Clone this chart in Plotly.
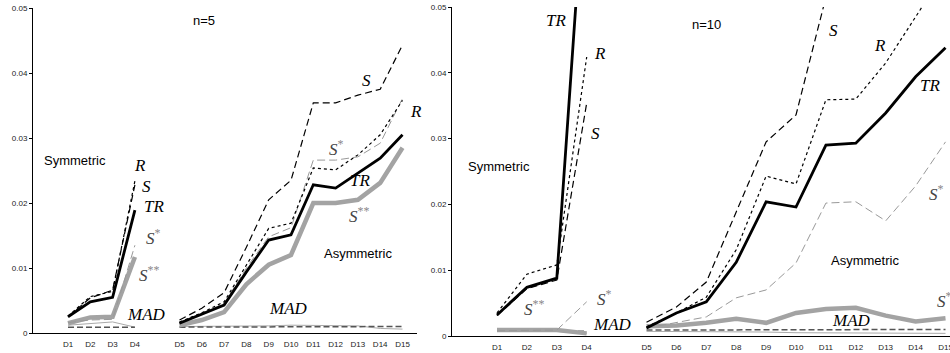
import plotly.graph_objects as go

# ---------------- data ----------------
categories = ["D1", "D2", "D3", "D4", "D5", "D6", "D7", "D8", "D9", "D10",
              "D11", "D12", "D13", "D14", "D15"]
n_sym = 4  # D1..D4 symmetric, D5..D15 asymmetric
y_ticks = [0, 0.01, 0.02, 0.03, 0.04, 0.05]
y_ticktext = ["0", "0.01", "0.02", "0.03", "0.04", "0.05"]

# n = 5
TR_5 = [0.0025, 0.0048, 0.0055, 0.0189, 0.0015, 0.0029, 0.0043, 0.0094, 0.0143, 0.0151,
        0.0228, 0.0223, 0.0246, 0.0269, 0.0305]
S_5 = [0.0025, 0.0054, 0.0066, 0.0228, 0.0020, 0.0038, 0.0062, 0.0132, 0.0205, 0.0235,
       0.0354, 0.0354, 0.0366, 0.0375, 0.0443]
R_5 = [0.0026, 0.0056, 0.0064, 0.0234, 0.0017, 0.0031, 0.0048, 0.0105, 0.0161, 0.0169,
       0.0254, 0.0251, 0.0274, 0.0305, 0.0358]
Sstar_5 = [0.0016, 0.0020, 0.0021, 0.0135, 0.0016, 0.0030, 0.0045, 0.0100, 0.0148, 0.0162,
           0.0266, 0.0266, 0.0271, 0.0292, 0.0361]
Sss_5 = [0.0015, 0.0024, 0.0025, 0.0117, 0.0012, 0.0020, 0.0032, 0.0075, 0.0105, 0.0120,
         0.0200, 0.0200, 0.0205, 0.0231, 0.0285]
MAD_5 = [0.0009, 0.0009, 0.0009, 0.0009, 0.0009, 0.0009, 0.0009, 0.0009, 0.0009, 0.0010,
         0.0010, 0.0010, 0.0010, 0.0010, 0.0010]
thin_5 = [0.0012, 0.0015, 0.0017, 0.0009, 0.0010, 0.0010, 0.0011, 0.0011, 0.0011, 0.0012,
          0.0012, 0.0012, 0.0011, 0.0007, 0.0006]

# n = 10
TR_10 = [0.0032, 0.0074, 0.0088, 0.0740, 0.0012, 0.0035, 0.0052, 0.0112, 0.0204, 0.0196,
         0.0290, 0.0293, 0.0339, 0.0394, 0.0438]
R_10 = [0.0035, 0.0094, 0.0108, 0.0424, 0.0014, 0.0035, 0.0059, 0.0131, 0.0243, 0.0231,
        0.0359, 0.0360, 0.0415, 0.0486, 0.0555]
S_10 = [0.0031, 0.0072, 0.0085, 0.0354, 0.0021, 0.0044, 0.0082, 0.0188, 0.0295, 0.0336,
        0.0515, 0.0550, 0.0580, 0.0620, 0.0660]
Sstar_10 = [0.0008, 0.0008, 0.0009, 0.0052, 0.0012, 0.0021, 0.0029, 0.0058, 0.0070, 0.0111,
            0.0202, 0.0204, 0.0175, 0.0228, 0.0295]
Sss_10 = [0.0009, 0.0009, 0.0009, 0.0004, 0.0015, 0.0016, 0.0020, 0.0026, 0.0020, 0.0035,
          0.0041, 0.0043, 0.0031, 0.0022, 0.0027]
MAD_10 = [0.0008, 0.0008, 0.0008, 0.0007, 0.0009, 0.0009, 0.0009, 0.0009, 0.0009, 0.0010,
          0.0010, 0.0010, 0.0010, 0.0010, 0.0010]
thin_10 = [0.0007, 0.0007, 0.0007, 0.0004, 0.0007, 0.0007, 0.0006, 0.0006, 0.0006, 0.0005,
           0.0005, 0.0005, 0.0005, 0.0004, 0.0004]

# ---------------- build ----------------
GAP = " "
x_cats = categories[:n_sym] + [GAP] + categories[n_sym:]


def with_gap(vals):
    return list(vals[:n_sym]) + [None] + list(vals[n_sym:])


styles = {
    "thin": dict(color="#aaaaaa", width=1, dash="solid"),
    "MAD": dict(color="#555555", width=1.5, dash="6px,3px"),
    "S**": dict(color="#a3a3a3", width=4.5, dash="solid"),
    "S*": dict(color="#999999", width=1, dash="8px,4px"),
    "R": dict(color="black", width=1.2, dash="3px,3px"),
    "S": dict(color="black", width=1.2, dash="7px,4px"),
    "TR": dict(color="black", width=2.8, dash="solid"),
}

panels = [
    ("x", "y", {"thin": thin_5, "MAD": MAD_5, "S**": Sss_5, "S*": Sstar_5,
                "R": R_5, "S": S_5, "TR": TR_5}),
    ("x2", "y2", {"thin": thin_10, "MAD": MAD_10, "S**": Sss_10, "S*": Sstar_10,
                  "R": R_10, "S": S_10, "TR": TR_10}),
]

fig = go.Figure()
for xa, ya, series in panels:
    for name, vals in series.items():
        fig.add_trace(go.Scatter(
            x=x_cats, y=with_gap(vals), xaxis=xa, yaxis=ya, mode="lines",
            line=dict(**styles[name]), connectgaps=False, showlegend=False,
            name=name, hoverinfo="skip"))

axis_font = dict(family="Liberation Sans, Arial", size=8, color="#222")
common_x = dict(type="category", categoryorder="array", categoryarray=x_cats,
                showline=True, linecolor="black", linewidth=1, showgrid=False,
                zeroline=False, ticks="", tickfont=axis_font, ticklabelstandoff=3,
                automargin=False)
common_y = dict(range=[0, 0.05], tickvals=y_ticks, ticktext=y_ticktext,
                showline=True, linecolor="black", linewidth=1, showgrid=False,
                zeroline=False, ticks="outside", ticklen=3, tickcolor="black",
                tickfont=axis_font, automargin=False)

W, H = 950, 353
fig.update_layout(
    width=W, height=H, margin=dict(l=0, r=0, t=0, b=0, autoexpand=False),
    paper_bgcolor="white", plot_bgcolor="white",
    xaxis=dict(common_x, domain=[33 / W, 417 / W], range=[-1.57, 15.65], anchor="y"),
    yaxis=dict(common_y, domain=[(H - 333) / H, (H - 8) / H], anchor="x"),
    xaxis2=dict(common_x, domain=[452 / W, 1.0], range=[-1.505, 15.15], anchor="y2"),
    yaxis2=dict(common_y, domain=[(H - 336) / H, (H - 7) / H], anchor="x2"),
)

serif = dict(family="Liberation Serif, Times New Roman", size=17, color="black")
grey_serif = dict(family="Liberation Serif, Times New Roman", size=17, color="#444444")
sans = dict(family="Liberation Sans, Arial", size=13, color="black")

one = "<i>S</i><sup><span style='color:#888'>*</span></sup>"
two = "<i>S</i><sup><span style='color:#888'>**</span></sup>"

labels = [
    # (axis suffix, x index, y value, text, font, xanchor)
    ("", 0.31, 0.0265, "Symmetric", sans, "center"),
    ("", 6.1, 0.0480, "n=5", sans, "center"),
    ("", 3.23, 0.0258, "<i>R</i>", serif, "center"),
    ("", 3.54, 0.0226, "<i>S</i>", serif, "center"),
    ("", 3.86, 0.0195, "<i>TR</i>", serif, "center"),
    ("", 3.41, 0.0147, one, grey_serif, "left"),
    ("", 3.09, 0.0091, two, grey_serif, "left"),
    ("", 3.54, 0.0029, "<i>MAD</i>", serif, "center"),
    ("", 13.4, 0.0389, "<i>S</i>", serif, "center"),
    ("", 15.62, 0.0340, "<i>R</i>", serif, "center"),
    ("", 11.6, 0.0285, one, grey_serif, "left"),
    ("", 13.1, 0.0235, "<i>TR</i>", serif, "center"),
    ("", 12.5, 0.0181, two, grey_serif, "left"),
    ("", 13.0, 0.0123, "Asymmetric", sans, "center"),
    ("", 9.9, 0.0038, "<i>MAD</i>", serif, "center"),
    ("2", 1.97, 0.0479, "<i>TR</i>", serif, "center"),
    ("2", 3.44, 0.0430, "<i>R</i>", serif, "center"),
    ("2", 3.28, 0.0308, "<i>S</i>", serif, "center"),
    ("2", 0.07, 0.0257, "Symmetric", sans, "center"),
    ("2", 6.99, 0.0474, "n=10", sans, "center"),
    ("2", 0.84, 0.0043, two, grey_serif, "left"),
    ("2", 3.28, 0.0058, one, grey_serif, "left"),
    ("2", 3.85, 0.0018, "<i>MAD</i>", serif, "center"),
    ("2", 11.24, 0.0465, "<i>S</i>", serif, "center"),
    ("2", 12.81, 0.0442, "<i>R</i>", serif, "center"),
    ("2", 12.3, 0.0114, "Asymmetric", sans, "center"),
    ("2", 11.84, 0.0024, "<i>MAD</i>", serif, "center"),
]
for sfx, xi, yv, txt, fnt, xanc in labels:
    fig.add_annotation(x=xi, y=yv, xref="x" + sfx, yref="y" + sfx, text=txt,
                       showarrow=False, font=fnt, xanchor=xanc, yanchor="middle")

# labels at the right edge of the n=10 panel (partly cut off by the page edge)
edge_labels = [
    (930 / W, 0.0381, "<i>TR</i>", serif, "center"),
    (927 / W, 0.0218, one, grey_serif, "left"),
    (935 / W, 0.0055, two, grey_serif, "left"),
]
for xp, yv, txt, fnt, xanc in edge_labels:
    fig.add_annotation(x=xp, y=yv, xref="paper", yref="y2", text=txt,
                       showarrow=False, font=fnt, xanchor=xanc, yanchor="middle")

# remove the browser's default 8px body margin so the figure fills the window
fig.write_html("out.html",
               config={"displayModeBar": False, "staticPlot": True},
               post_script="document.body.style.margin='0';"
                           "document.body.style.overflow='hidden';")
